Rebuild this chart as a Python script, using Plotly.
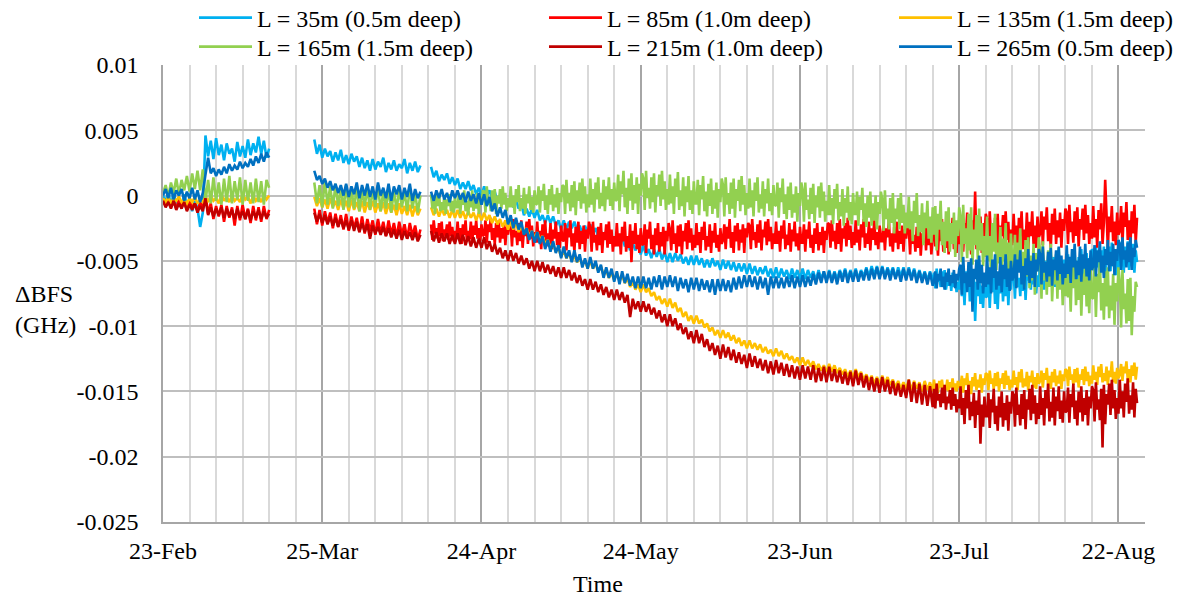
import pandas as pd
import plotly.graph_objects as go

# ---------------- data (values in MHz; plotted in GHz) ----------------
series_names = ["L = 35m (0.5m deep)", "L = 85m (1.0m deep)", "L = 135m (1.5m deep)",
                "L = 165m (1.5m deep)", "L = 215m (1.0m deep)", "L = 265m (0.5m deep)"]
series_colors = ["#00B0F0", "#FF0000", "#FFC000", "#92D050", "#C00000", "#0070C0"]

# measurement periods (start time of each block of samples)
SEG1_START = "2021-02-23 00:00"    # 12-hourly
SEG2_START = "2021-03-23 12:00"    # 12-hourly
SEG3_START = "2021-04-14 12:00"    # 12-hourly (6-hourly for 85m / 165m)
SEG3B_START = "2021-07-18 06:00"   # 6-hourly, continues SEG3 without a gap

# ---- L = 35m ----
lb_seg1 = [0.0, -0.5, 0.3, -0.8, 0.2, -0.6, -0.2, -1.0, 0.1, -0.7, -0.3, -1.2, -0.4, -1.0, -2.4, -1.3,
           4.6, 3.0, 4.2, 2.8, 4.4, 3.1, 3.9, 2.7, 4.0, 3.2, 3.6, 2.6, 4.1, 3.0, 3.8, 2.9, 4.3, 3.1, 4.0,
           3.3, 4.5, 3.2, 4.2, 2.9, 3.6]
lb_seg2 = [4.3, 3.2, 3.9, 2.9, 3.6, 3.0, 3.4, 2.6, 3.3, 2.7, 3.5, 2.5, 3.1, 2.4, 3.2, 2.6, 3.0, 2.2, 2.9, 2.1,
           2.7, 1.9, 2.8, 2.0, 2.6, 2.2, 2.9, 1.8, 2.5, 2.0, 2.7, 1.9, 2.4, 2.1, 2.8, 1.7, 2.5, 1.9, 2.6, 1.8, 2.3]
lb_seg3a = [2.2, 1.4, 1.9, 1.1, 1.6, 1.2, 1.7, 0.9, 1.4, 0.8,
            1.3, 0.5, 1.0, 0.5, 1.1, 0.4, 0.8, 0.1, 0.6, 0.0,
            0.7, -0.1, 0.4, -0.2, 0.3, -0.5, 0.0, -0.6, -0.1, -0.8,
            -0.2, -0.9, -0.3, -1.0, -0.6, -1.5, -1.0, -1.6, -1.0, -1.7,
            -1.1, -1.9, -1.5, -2.1, -1.5, -2.1, -1.6, -2.3, -1.9, -2.6,
            -1.9, -2.6, -2.0, -2.5, -2.0, -2.7, -2.3, -2.9, -2.3, -2.9,
            -2.2, -2.9, -2.5, -3.2, -2.7, -3.3, -2.7, -3.4, -3.0, -3.7,
            -3.0, -3.7, -3.1, -3.9, -3.5, -4.2, -3.6, -4.2, -3.7, -4.5,
            -3.8, -4.6, -4.1, -4.8, -4.1, -4.7, -4.1, -4.9, -4.3, -5.1,
            -4.4, -5.1, -4.4, -5.0, -4.5, -5.2, -4.7, -5.3, -4.6, -5.3,
            -4.6, -5.3, -4.8, -5.5, -4.9, -5.5, -4.8, -5.4, -5.0, -5.7,
            -4.9, -5.6, -5.0, -5.7, -5.1, -5.8, -5.2, -5.8, -5.2, -6.0,
            -5.2, -6.0, -5.4, -6.1, -5.5, -6.0, -5.4, -6.2, -5.6, -6.3,
            -5.5, -6.3, -5.6, -6.2, -5.7, -6.4, -5.6, -6.3, -5.7, -6.4,
            -5.6, -6.4, -5.7, -6.3, -5.8, -6.5, -5.7, -6.4, -5.8, -6.5,
            -5.7, -6.5, -5.8, -6.4, -5.7, -6.3, -5.6, -6.4, -5.7, -6.3,
            -5.6, -6.4, -5.7, -6.2, -5.5, -6.2, -5.4, -6.1, -5.4, -6.2,
            -5.4, -6.2, -5.5, -6.1, -5.5, -6.3, -5.5, -6.2, -5.5, -6.3,
            -5.5, -6.3, -5.6, -6.4, -5.7, -6.4, -5.8, -6.5, -5.8, -6.6]
lb_seg3b = [-5.9, -7.1, -5.6, -6.6, -6.2, -7.0, -5.8, -6.8, -5.7, -7.2, -6.5, -6.9, -6.1, -7.3, -5.9, -7.0, -6.3, -7.4, -6.6, -7.2,
            -5.5, -7.7, -6.4, -8.4, -5.8, -7.2, -5.4, -8.1, -6.7, -7.8, -6.0, -9.6, -6.6, -7.7, -5.8, -8.3, -6.9, -8.6, -6.3, -7.8,
            -7.7, -6.0, -8.6, -6.4, -7.4, -5.7, -8.3, -6.9, -8.7, -6.3, -7.5, -5.5, -8.1, -6.4, -7.7, -5.8, -8.4, -6.3, -7.2, -5.5,
            -5.8, -7.9, -5.2, -7.0, -6.3, -7.7, -5.6, -7.3, -5.3, -8.0, -5.8, -6.5, -5.1, -7.2, -4.8, -6.8, -5.5, -7.5, -6.1, -7.0,
            -4.7, -6.6, -5.5, -7.2, -5.0, -6.2, -4.6, -6.9, -5.8, -6.7, -4.7, -7.0, -5.2, -6.1, -4.5, -6.6, -5.4, -6.9, -4.9, -6.2,
            -5.9, -4.5, -6.7, -4.8, -5.6, -4.2, -6.4, -5.2, -6.8, -4.7, -5.8, -4.1, -6.3, -4.9, -6.0, -4.4, -6.6, -4.8, -5.6, -4.1,
            -4.3, -6.3, -3.8, -5.5, -4.8, -6.1, -4.2, -5.8, -3.9, -6.4, -4.5, -5.2, -3.9, -5.8, -3.6, -5.4, -4.2, -6.1, -4.8, -5.7,
            -3.6, -5.3, -4.3, -5.9, -3.9, -4.9, -3.5, -5.7, -4.6, -5.4, -3.7, -5.9, -4.2, -5.1]

# ---- L = 85m ----
rd_seg1 = [-0.3, -0.8, -0.2, -0.9, -0.4, -1.0, -0.3, -0.8, -0.5, -1.1, -0.4, -0.9, -0.6, -1.2, -0.5, -1.0,
           0.1, -1.4, -0.6, -1.8, -0.8, -1.6, -0.7, -2.0, -0.8, -1.7, -0.9, -2.3, -0.8, -1.9, -0.7, -1.8,
           -1.0, -2.1, -0.8, -1.9, -0.9, -2.0, -0.8, -1.8, -1.1]
rd_seg2 = [-1.0, -2.2, -1.1, -2.3, -1.2, -2.1, -1.3, -2.5, -1.4, -2.4, -1.5, -2.6, -1.4, -2.7, -1.6, -2.5,
           -1.7, -2.8, -1.6, -2.9, -1.8, -2.7, -1.9, -3.0, -1.8, -2.9, -2.0, -3.1, -1.9, -3.0, -2.1, -3.2,
           -2.0, -3.0, -2.2, -3.3, -2.1, -3.1, -2.3, -3.4, -2.6]
rd_seg3a = [-2.2, -3.4, -1.9, -2.9, -2.5, -3.3, -2.1, -3.1, -2.0, -3.5, -2.6, -3.0, -2.2, -3.4, -2.0, -3.1, -2.4, -3.5, -2.7, -3.3,
            -2.0, -3.3, -2.5, -3.7, -2.2, -3.0, -1.9, -3.5, -2.7, -3.3, -2.0, -3.6, -2.3, -3.0, -1.9, -3.3, -2.5, -3.5, -2.2, -3.1,
            -3.0, -1.9, -3.6, -2.2, -2.8, -1.7, -3.4, -2.5, -3.7, -2.1, -3.2, -1.9, -3.6, -2.5, -3.3, -2.1, -3.8, -2.4, -3.0, -1.9,
            -2.2, -3.9, -1.8, -3.2, -2.7, -3.8, -2.1, -3.5, -1.9, -4.0, -2.6, -3.1, -2.0, -3.7, -1.8, -3.3, -2.3, -3.9, -2.8, -3.6,
            -2.0, -3.6, -2.7, -4.1, -2.2, -3.2, -1.9, -3.9, -2.9, -3.7, -2.1, -4.1, -2.6, -3.3, -2.0, -3.8, -2.8, -4.0, -2.3, -3.4,
            -3.5, -2.1, -4.2, -2.5, -3.2, -1.9, -3.9, -2.9, -4.3, -2.4, -3.6, -2.0, -4.1, -2.7, -3.7, -2.3, -4.3, -2.6, -3.3, -2.0,
            -2.5, -4.3, -2.0, -3.6, -3.0, -4.2, -2.4, -3.8, -2.1, -4.4, -2.8, -3.4, -2.2, -4.0, -2.0, -3.7, -2.6, -4.3, -3.1, -3.9,
            -2.1, -3.9, -2.9, -4.5, -2.4, -3.5, -2.0, -4.3, -3.1, -4.0, -2.2, -5.1, -2.7, -3.7, -2.1, -4.1, -3.0, -4.4, -2.5, -3.8,
            -3.7, -2.2, -4.4, -2.6, -3.3, -2.0, -4.1, -3.0, -4.5, -2.5, -3.8, -2.1, -4.3, -2.8, -3.9, -2.4, -4.5, -2.7, -3.5, -2.1,
            -2.6, -4.2, -1.9, -3.7, -2.9, -4.4, -2.3, -3.9, -2.2, -4.5, -2.7, -3.5, -2.1, -4.1, -1.9, -3.6, -2.5, -4.2, -3.0, -4.0,
            -2.1, -3.8, -2.8, -4.4, -2.4, -3.4, -2.0, -4.2, -3.1, -3.9, -2.2, -4.4, -2.7, -3.6, -2.1, -4.0, -3.0, -4.3, -2.5, -3.7,
            -3.4, -2.2, -4.1, -2.4, -3.3, -1.8, -4.0, -2.8, -4.4, -2.3, -3.5, -2.1, -4.2, -2.6, -3.6, -2.2, -4.4, -2.5, -3.2, -2.1,
            -2.3, -4.1, -1.8, -3.4, -2.8, -4.0, -2.2, -3.6, -1.9, -4.2, -2.6, -3.2, -2.0, -3.8, -1.8, -3.5, -2.4, -4.1, -2.9, -3.7,
            -2.0, -3.7, -2.7, -4.3, -2.3, -3.3, -1.9, -4.1, -3.0, -3.8, -2.1, -4.3, -2.6, -3.5, -2.0, -3.9, -2.9, -4.2, -2.4, -3.6,
            -3.6, -2.2, -4.3, -2.6, -3.3, -2.0, -4.0, -3.0, -4.4, -2.5, -3.7, -2.1, -4.2, -2.8, -3.8, -2.4, -4.4, -2.7, -3.4, -2.1,
            -2.2, -4.0, -1.9, -3.5, -2.7, -4.1, -2.1, -3.7, -1.8, -4.3, -2.5, -3.3, -2.1, -3.9, -1.7, -3.4, -2.3, -4.0, -2.8, -3.8,
            -1.9, -3.6, -2.6, -4.2, -2.2, -3.2, -1.8, -4.0, -2.9, -3.7, -2.0, -4.2, -2.5, -3.4, -1.9, -3.8, -2.8, -4.1, -2.3, -3.5,
            -3.5, -2.1, -4.2, -2.5, -3.2, -1.9, -3.9, -2.9, -4.3, -2.4, -3.6, -2.0, -4.1, -2.7, -3.7, -2.3, -4.3, -2.6, -3.3, -2.0,
            -2.5, -4.5, -2.0, -3.7, -3.0, -4.3, -2.4, -4.0, -2.1, -4.6, -2.9, -3.6, -2.3, -4.2, -2.0, -3.8, -2.6, -4.5, -3.2]
rd_seg3b = [-1.9, -3.9, -2.8, -4.6, -2.2, -3.5, -1.8, -4.3, -3.1, -4.0, -1.9, -4.5, -2.4, -3.5, -1.7, -4.1, -2.7, -4.4, -2.2, -3.7,
            -3.4, -1.6, -4.3, -2.1, -3.1, -1.3, -4.0, -2.6, -4.5, -1.9, -3.4, 0.3, -4.1, -2.2, -3.6, -1.6, -4.4, -2.1, -3.1, -1.4,
            -1.8, -4.2, -1.2, -3.3, -2.5, -4.1, -1.7, -3.6, -1.4, -4.4, -2.3, -3.1, -1.5, -3.9, -1.2, -3.4, -2.0, -4.2, -2.6, -3.8,
            -1.4, -3.6, -2.3, -4.4, -1.7, -3.1, -1.2, -4.1, -2.6, -3.8, -1.3, -4.2, -2.0, -3.1, -1.2, -3.7, -2.3, -4.0, -1.6, -3.2,
            -2.9, -1.2, -3.8, -1.6, -2.6, -0.9, -3.5, -2.1, -4.0, -1.4, -3.0, -1.0, -3.7, -1.9, -3.2, -1.3, -4.0, -1.8, -2.7, -1.0,
            -1.3, -3.7, -0.7, -2.8, -2.0, -3.6, -1.2, -3.1, -0.9, -3.9, -1.8, -2.6, -1.0, -3.4, -0.7, -2.9, -1.5, -3.7, -2.1, -3.3,
            -0.8, -3.2, -1.8, -4.0, -1.1, -2.6, -0.6, -3.7, -2.1, 1.2, -0.9, -4.0, -1.6, -2.8, -0.8, -3.5, -2.0, -3.8, -1.3, -3.0,
            -2.7, -0.8, -3.7, -1.3, -2.4, -0.5, -3.4, -1.9, -3.9, -1.2, -2.9, -0.7, -3.6, -1.7]

# ---- L = 135m ----
ye_seg1 = [-0.2, -0.5, -0.1, -0.6, -0.2, -0.4, -0.1, -0.5, -0.3, -0.6, -0.2, -0.5, -0.1, -0.6, -0.3, -0.5,
           -0.1, -0.5, 0.0, -0.4, -0.2, -0.6, 0.1, -0.4, -0.1, -0.5, 0.0, -0.4, -0.2, -0.5, 0.1, -0.3,
           -0.1, -0.6, 0.0, -0.4, -0.1, -0.5, 0.0, -0.3, 0.0]
ye_seg2 = [-0.1, -0.8, -0.2, -0.9, -0.3, -1.0, -0.2, -0.9, -0.4, -1.1, -0.3, -1.0, -0.4, -1.2, -0.3, -1.1,
           -0.5, -1.2, -0.4, -1.3, -0.5, -1.1, -0.4, -1.3, -0.6, -1.2, -0.5, -1.4, -0.6, -1.3, -0.7, -1.5,
           -0.6, -1.4, -0.8, -1.5, -0.7, -1.6, -0.8, -1.5, -1.0]
ye_seg3a = [-0.9, -1.5, -1.0, -1.6, -1.0, -1.5, -1.1, -1.7, -1.1, -1.7,
            -1.1, -1.7, -1.2, -1.8, -1.2, -1.7, -1.3, -1.9, -1.3, -1.9,
            -1.3, -1.9, -1.5, -2.1, -1.6, -2.2, -1.8, -2.4, -1.9, -2.6,
            -2.0, -2.6, -2.1, -2.8, -2.3, -2.9, -2.5, -3.1, -2.7, -3.3,
            -2.8, -3.4, -3.1, -3.7, -3.4, -4.0, -3.7, -4.3, -4.0, -4.7,
            -4.2, -4.8, -4.4, -5.0, -4.6, -5.1, -4.8, -5.3, -5.0, -5.6,
            -5.0, -5.6, -5.2, -5.8, -5.4, -6.1, -5.7, -6.3, -5.9, -6.5,
            -5.9, -6.5, -6.1, -6.7, -6.3, -7.0, -6.6, -7.2, -6.8, -7.4,
            -6.8, -7.4, -7.1, -7.7, -7.4, -8.0, -7.7, -8.3, -7.9, -8.5,
            -7.9, -8.6, -8.2, -8.9, -8.6, -9.3, -8.9, -9.6, -9.2, -9.8,
            -9.2, -9.8, -9.5, -10.1, -9.8, -10.4, -10.1, -10.7, -10.3, -10.9,
            -10.3, -10.9, -10.5, -11.1, -10.7, -11.3, -10.9, -11.5, -11.1, -11.7,
            -11.1, -11.7, -11.3, -11.8, -11.4, -12.0, -11.6, -12.1, -11.8, -12.3,
            -11.7, -12.3, -11.9, -12.5, -12.1, -12.6, -12.3, -12.8, -12.4, -13.0,
            -12.4, -13.0, -12.6, -13.1, -12.7, -13.3, -12.9, -13.4, -13.0, -13.5,
            -12.9, -13.5, -13.0, -13.6, -13.2, -13.7, -13.3, -13.9, -13.4, -13.9,
            -13.3, -13.9, -13.5, -14.1, -13.7, -14.2, -13.8, -14.4, -13.9, -14.4,
            -13.8, -14.4, -13.9, -14.5, -14.1, -14.7, -14.2, -14.8, -14.3, -14.8,
            -14.1, -14.9, -14.2, -14.8, -14.3, -15.0, -14.2, -14.9, -14.3, -15.0]
ye_seg3b = [-14.1, -14.9, -14.4, -15.1, -14.2, -14.7, -14.1, -15.0, -14.5, -14.9, -14.1, -15.0, -14.3, -14.7, -14.0, -14.9, -14.4, -15.0, -14.2, -14.7,
            -14.6, -13.8, -15.1, -14.0, -14.5, -13.6, -15.0, -14.2, -15.2, -13.9, -14.6, -13.6, -14.9, -14.1, -14.7, -13.7, -15.1, -14.0, -14.5, -13.6,
            -13.7, -14.9, -13.4, -14.4, -14.0, -14.8, -13.6, -14.6, -13.5, -15.0, -14.0, -14.4, -13.6, -14.8, -13.4, -14.5, -13.8, -14.9, -14.1, -14.7,
            -13.4, -14.5, -13.9, -14.9, -13.5, -14.3, -13.3, -14.7, -14.0, -14.6, -13.5, -14.9, -13.8, -14.3, -13.4, -14.7, -13.9, -14.8, -13.6, -14.4,
            -14.2, -13.4, -14.7, -13.6, -14.1, -13.2, -14.6, -13.8, -14.8, -13.5, -14.3, -13.3, -14.6, -13.8, -14.4, -13.4, -14.8, -13.7, -14.2, -13.3,
            -13.4, -14.6, -13.1, -14.1, -13.7, -14.5, -13.3, -14.3, -13.2, -14.7, -13.7, -14.1, -13.3, -14.5, -13.1, -14.2, -13.5, -14.6, -13.8, -14.4,
            -13.0, -14.1, -13.5, -14.5, -13.1, -13.9, -12.9, -14.3, -13.6, -14.2, -13.1, -14.5, -13.4, -13.9, -12.7, -14.3, -13.5, -14.4, -13.2, -14.0,
            -13.7, -12.9, -14.2, -13.1, -13.6, -12.7, -14.1, -13.3, -14.3, -13.0, -13.8, -12.8, -14.1, -13.1]

# ---- L = 165m ----
gr_seg1 = [0.2, 0.8, -0.1, 1.0, 0.2, 1.3, 0.1, 1.2, 0.4, 1.5, 0.3, 1.7, 0.5, 1.9, 0.4, 2.0,
           -0.5, 1.2, -0.6, 1.4, -0.4, 1.0, -0.7, 1.3, -0.5, 1.5, -0.6, 1.1, -0.3, 1.4, -0.7, 1.2,
           -0.4, 1.0, -0.6, 1.3, -0.5, 1.1, -0.7, 1.2, 0.6]
gr_seg2 = [1.0, -0.6, 0.8, -0.9, 1.2, -0.7, 0.7, -1.0, 0.9, -0.8, 0.6, -1.1, 0.8, -0.9, 0.5, -1.0,
           0.7, -1.2, 0.4, -0.8, 0.6, -1.1, 0.5, -0.9, 0.8, -1.2, 0.3, -1.0, 0.6, -1.3, 0.4, -1.1,
           0.5, -0.9, 0.3, -1.2, 0.6, -1.0, 0.2, -1.3, 0.0]
gr_seg3a = [0.1, -1.0, -0.4, -1.4, 0.0, -0.8, 0.2, -1.2, -0.5, -1.1, 0.0, -1.4, -0.3, -0.8, 0.1, -1.2, -0.4, -1.3, -0.1, -0.9,
            -0.9, 0.2, -1.4, -0.1, -0.7, 0.4, -1.2, -0.4, -1.5, -0.1, -0.9, 0.4, -1.2, -0.2, -1.0, 0.2, -1.4, 0.0, -0.7, 0.4,
            0.3, -1.3, 0.7, -0.7, -0.2, -1.2, 0.4, -0.9, 0.5, -1.4, 0.0, -0.6, 0.5, -1.0, 0.7, -0.7, 0.2, -1.2, -0.2, -0.9,
            0.7, -0.9, 0.0, -1.4, 0.5, -0.5, 0.8, -1.2, -0.2, -1.0, 0.6, -1.4, 0.1, -0.6, 0.7, -1.1, -0.1, -1.3, 0.4, -0.7,
            -0.6, 0.7, -1.3, 0.4, -0.4, 0.9, -1.1, 0.0, -1.4, 0.5, -0.7, 0.8, -1.2, 0.1, -0.9, 0.6, -1.4, 0.2, -0.5, 0.8,
            0.7, -1.4, 1.2, -0.6, 0.2, -1.2, 0.8, -0.9, 1.1, -1.5, 0.4, -0.4, 1.0, -1.0, 1.3, -0.6, 0.7, -1.3, 0.1, -0.9,
            1.3, -0.7, 0.5, -1.3, 1.0, -0.3, 1.4, -1.0, 0.2, -0.8, 1.2, -1.2, 0.7, -0.3, 1.4, -0.8, 0.5, -1.1, 1.0, -0.4,
            -0.3, 1.6, -1.2, 1.1, 0.1, 1.9, -0.9, 0.6, -1.4, 1.3, -0.4, 1.7, -1.1, 0.8, -0.6, 1.4, -1.4, 0.9, 0.0, 1.7,
            1.3, -1.1, 1.9, -0.2, 0.6, -1.0, 1.4, -0.5, 1.7, -1.3, 0.8, 0.0, 1.6, -0.8, 1.9, -0.3, 1.1, -1.1, 0.5, -0.7,
            1.6, -0.6, 0.7, -1.4, 1.3, -0.1, 1.8, -1.1, 0.4, -0.8, 1.4, -1.6, 0.7, -0.5, 1.5, -1.1, 0.4, -1.4, 1.1, -0.6,
            -0.6, 1.2, -1.5, 0.8, -0.3, 1.5, -1.2, 0.3, -1.6, 0.9, -0.8, 1.3, -1.4, 0.4, -1.0, 1.0, -1.7, 0.5, -0.5, 1.3,
            0.8, -1.6, 1.4, -0.7, 0.2, -1.4, 1.0, -1.0, 1.3, -1.7, 0.5, -0.4, 1.2, -1.2, 1.5, -0.7, 0.8, -1.5, 0.2, -1.0,
            1.3, -0.9, 0.4, -1.6, 1.0, -0.4, 1.4, -1.3, 0.1, -1.0, 1.1, -1.6, 0.5, -0.6, 1.3, -1.2, 0.2, -1.5, 0.8, -0.7,
            -0.8, 1.0, -1.7, 0.6, -0.5, 1.3, -1.4, 0.1, -1.8, 0.7, -1.1, 1.0, -1.7, 0.1, -1.3, 0.7, -2.0, 0.2, -0.8, 1.0,
            0.4, -2.0, 1.0, -1.1, -0.3, -1.8, 0.6, -1.4, 0.9, -2.1, 0.0, -0.9, 0.7, -1.7, 1.0, -1.2, 0.3, -2.0, -0.4, -1.5,
            0.8, -1.5, -0.2, -2.2, 0.5, -1.0, 0.9, -1.9, -0.5, -1.6, 0.5, -2.3, -0.2, -1.3, 0.7, -1.9, -0.5, -2.2, 0.2, -1.4,
            -1.4, 0.3, -2.3, -0.1, -1.1, 0.6, -2.0, -0.6, -2.4, 0.0, -1.7, 0.3, -2.3, -0.6, -1.9, 0.0, -2.6, -0.5, -1.4, 0.3,
            -0.3, -2.7, 0.4, -1.8, -1.0, -2.6, -0.2, -2.1, 0.2, -2.9, -1.0, -1.8, -0.2, -2.6, 0.2, -2.1, -0.7, -2.9, -1.3, -2.5,
            -0.1, -2.6, -1.2, -3.5, -0.4, -2.1, 0.2, -3.1, -1.5, -2.8, -0.6, -3.8, -1.3, -2.5, -0.4, -3.3, -1.6, -3.6, -0.9]
gr_seg3b = [-3.0, -0.8, -4.2, -1.4, -2.6, -0.4, -3.8, -2.0, -4.4, -1.2, -3.5, -0.9, -4.3, -2.1, -3.7, -1.3, -4.7, -1.9, -3.1, -0.9,
            -1.6, -5.1, -0.7, -3.7, -2.5, -4.8, -1.4, -4.2, -0.9, -5.3, -2.6, -3.8, -1.5, -4.9, -1.0, -4.2, -2.1, -5.4, -3.1, -4.7,
            -1.6, -5.0, -3.1, -6.2, -2.1, -4.3, -1.4, -5.7, -3.6, -5.2, -2.4, -6.7, -3.3, -5.0, -2.1, -6.0, -3.6, -6.5, -2.9, -5.3,
            -5.5, -3.0, -6.9, -3.6, -5.0, -2.5, -6.4, -4.3, -7.1, -3.4, -6.2, -3.2, -7.1, -4.6, -6.5, -3.7, -7.6, -4.4, -5.8, -3.2,
            -4.4, -7.9, -3.5, -6.5, -5.3, -7.6, -4.2, -7.0, -3.7, -8.1, -5.6, -6.8, -4.5, -7.9, -4.0, -7.2, -5.1, -8.4, -6.1, -7.7,
            -4.5, -7.8, -5.9, -8.9, -5.0, -7.1, -4.3, -8.4, -6.4, -8.0, -5.1, -9.2, -6.0, -7.6, -4.8, -8.5, -6.2, -9.0, -5.5, -7.8,
            -7.9, -5.4, -9.3, -6.0, -7.4, -4.9, -8.8, -6.7, -9.5, -5.8, -8.5, -5.5, -9.4, -6.9, -8.8, -6.0, -9.9, -6.7, -8.1, -5.5,
            -6.6, -10.1, -5.7, -8.7, -7.5, -9.8, -6.4, -9.6, -6.3, -10.7, -7.7, -8.9, -6.6, -7.0]

# ---- L = 215m ----
dr_seg1 = [-0.4, -0.9, -0.5, -1.0, -0.4, -1.1, -0.6, -1.0, -0.5, -1.2, -0.7, -1.1, -0.6, -1.3, -0.8, -1.2,
           -0.2, -1.5, -0.9, -1.6, -1.0, -1.5, -0.9, -1.7, -1.0, -1.6, -1.1, -1.8, -1.0, -1.7, -1.2, -1.8,
           -1.1, -1.9, -1.2, -1.7, -1.1, -1.8, -1.2, -1.7, -1.4]
dr_seg2 = [-1.3, -2.0, -1.4, -2.1, -1.5, -2.2, -1.6, -2.3, -1.7, -2.4, -1.8, -2.5, -1.9, -2.6, -1.9, -2.7,
           -2.0, -2.8, -2.1, -2.8, -2.2, -3.3, -2.3, -2.9, -2.4, -3.0, -2.4, -3.1, -2.5, -3.2, -2.6, -3.3,
           -2.6, -3.4, -2.7, -3.3, -2.8, -3.4, -2.8, -3.5, -3.0]
dr_seg3a = [-2.7, -3.5, -2.8, -3.6, -2.9, -3.5, -2.9, -3.7, -3.0, -3.7,
            -2.9, -3.7, -3.0, -3.8, -3.1, -3.9, -3.2, -4.0, -3.3, -4.0,
            -3.2, -4.1, -3.5, -4.3, -3.7, -4.5, -4.0, -4.8, -4.2, -5.0,
            -4.2, -5.0, -4.4, -5.2, -4.6, -5.3, -4.8, -5.6, -5.0, -5.8,
            -5.0, -5.8, -5.1, -5.9, -5.3, -6.0, -5.4, -6.2, -5.5, -6.3,
            -5.5, -6.3, -5.7, -6.5, -5.9, -6.7, -6.1, -6.9, -6.4, -7.2,
            -6.4, -7.2, -6.6, -7.4, -6.8, -7.6, -7.0, -7.8, -7.2, -8.0,
            -7.2, -8.0, -7.4, -8.2, -7.6, -9.3, -7.9, -8.7, -8.1, -8.9,
            -8.1, -8.9, -8.3, -9.1, -8.6, -9.4, -8.8, -9.7, -9.1, -10.0,
            -9.1, -10.0, -9.4, -10.3, -9.8, -10.6, -10.1, -11.0, -10.4, -11.3,
            -10.3, -11.3, -10.6, -11.6, -11.0, -11.9, -11.3, -12.2, -11.5, -12.5,
            -11.4, -12.4, -11.6, -12.6, -11.8, -12.8, -12.0, -12.9, -12.2, -13.2,
            -12.1, -13.1, -12.3, -13.2, -12.5, -13.4, -12.6, -13.6, -12.7, -13.7,
            -12.6, -13.6, -12.8, -13.8, -12.9, -13.9, -13.0, -14.0, -13.1, -14.1,
            -13.0, -14.0, -13.1, -14.1, -13.0, -14.3, -13.2, -14.2, -13.1, -14.3,
            -13.1, -14.2, -13.3, -14.3, -13.4, -14.4, -13.5, -14.5, -13.5, -14.6,
            -13.4, -14.5, -13.6, -14.7, -13.8, -14.9, -13.9, -15.0, -14.0, -15.1,
            -13.9, -15.0, -14.1, -15.2, -14.2, -15.3, -14.4, -15.4, -14.5, -15.5,
            -14.1, -15.8, -14.3, -15.9, -14.4, -16.0, -14.5, -16.1, -14.6, -16.2]
dr_seg3b = [-14.8, -16.3, -14.4, -15.7, -15.2, -16.2, -14.7, -15.9, -14.5, -16.4, -15.4, -15.9, -14.9, -16.4, -14.7, -16.1, -15.2, -16.6, -15.6, -16.3,
            -14.6, -16.8, -15.5, -17.5, -14.9, -16.3, -14.5, -17.2, -15.8, -16.9, -15.1, -17.8, -15.7, -16.8, -14.9, -19.0, -16.0, -17.7, -15.4, -16.9,
            -16.9, -15.1, -17.8, -15.6, -16.6, -14.8, -17.5, -16.1, -18.0, -15.4, -17.0, -15.0, -17.7, -15.9, -17.2, -15.3, -18.0, -15.8, -16.7, -15.0,
            -15.3, -17.7, -14.7, -16.8, -16.0, -17.6, -15.2, -17.1, -14.9, -17.9, -15.6, -16.4, -14.8, -17.2, -14.5, -16.7, -15.3, -17.5, -15.9, -17.1,
            -14.6, -16.8, -15.5, -17.6, -14.9, -16.3, -14.4, -17.3, -15.8, -17.0, -14.7, -17.6, -15.4, -16.5, -14.6, -17.1, -15.7, -17.4, -15.0, -16.6,
            -16.5, -14.7, -17.4, -15.2, -16.2, -14.4, -17.1, -15.7, -17.6, -15.0, -16.6, -14.6, -17.3, -15.5, -16.8, -14.9, -17.6, -15.4, -16.3, -14.6,
            -14.9, -17.3, -14.3, -16.4, -15.6, -17.2, -14.8, -19.3, -14.5, -17.5, -15.2, -16.0, -14.4, -16.8, -14.1, -16.3, -14.9, -17.1, -15.5, -16.7,
            -14.1, -16.3, -15.0, -17.0, -14.4, -15.8, -14.0, -16.7, -15.3, -16.4, -14.3, -17.0, -14.8, -15.9]

# ---- L = 265m ----
db_seg1 = [0.0, 0.5, -0.2, 0.6, -0.3, 0.4, 0.0, 0.5, -0.4, 0.3, -0.2, 0.6, -0.3, 0.4, -0.5, 0.2,
           1.6, 2.9, 1.7, 2.1, 1.5, 2.0, 1.6, 2.2, 1.7, 2.4, 1.9, 2.3, 2.0, 2.6, 2.1, 2.5, 2.2, 2.8,
           2.3, 3.0, 2.5, 3.2, 2.6, 3.3, 2.9]
db_seg2 = [1.9, 1.2, 1.5, 0.9, 1.3, 0.6, 1.1, 0.4, 0.9, 0.2, 0.8, 0.0, 0.9, -0.1, 0.7, 0.1, 1.0, -0.2,
           0.8, 0.0, 0.9, -0.1, 0.7, -0.3, 1.0, 0.0, 0.6, -0.2, 0.9, -0.4, 0.7, 0.1, 0.8, -0.3, 0.6,
           -0.1, 0.9, -0.4, 0.5, -0.2, 0.3]
db_seg3a = [0.3, -0.4, 0.4, -0.2, 0.5, -0.3, 0.2, -0.5, 0.4, -0.2,
            0.4, -0.3, 0.2, -0.5, 0.3, -0.4, 0.1, -0.6, 0.2, -0.7,
            0.1, -0.8, -0.1, -1.2, -0.6, -1.6, -0.9, -1.7, -1.1, -2.2,
            -1.5, -2.5, -1.7, -2.6, -2.0, -3.0, -2.5, -3.4, -2.7, -3.6,
            -2.8, -3.7, -3.1, -4.1, -3.4, -4.3, -3.5, -4.4, -3.8, -4.8,
            -3.9, -4.8, -4.2, -5.1, -4.2, -5.1, -4.5, -5.5, -4.8, -5.6,
            -4.7, -5.6, -5.0, -5.9, -5.3, -6.3, -5.5, -6.3, -5.6, -6.6,
            -5.8, -6.8, -5.8, -6.7, -6.0, -6.9, -6.2, -7.1, -6.2, -7.1,
            -6.2, -7.1, -6.3, -7.2, -6.2, -7.0, -6.1, -7.2, -6.2, -7.0,
            -6.1, -7.0, -6.2, -7.3, -6.3, -7.1, -6.4, -7.4, -6.3, -7.2,
            -6.3, -7.3, -6.4, -7.2, -6.5, -7.4, -6.4, -7.6, -6.4, -7.3,
            -6.4, -7.3, -6.5, -7.4, -6.3, -7.2, -6.2, -7.1, -6.1, -7.0,
            -6.1, -7.0, -6.2, -7.2, -6.2, -7.1, -6.3, -7.6, -6.2, -7.1,
            -6.2, -7.1, -6.3, -7.1, -6.2, -7.0, -6.1, -7.1, -6.2, -7.0,
            -6.1, -7.0, -6.2, -6.9, -6.0, -6.8, -5.9, -6.7, -5.8, -6.7,
            -5.8, -6.7, -5.9, -6.8, -5.8, -6.6, -5.7, -6.7, -5.8, -6.6,
            -5.7, -6.6, -5.8, -6.5, -5.6, -6.5, -5.6, -6.4, -5.5, -6.4,
            -5.5, -6.4, -5.6, -6.5, -5.6, -6.4, -5.7, -6.6, -5.6, -6.5,
            -5.6, -6.5, -5.7, -6.7, -5.8, -6.7, -5.9, -6.8, -5.9, -6.9]
db_seg3b = [-6.6, -5.8, -7.1, -6.0, -6.5, -5.6, -7.0, -6.2, -7.2, -5.9, -6.6, -5.6, -6.9, -6.1, -6.7, -5.7, -7.1, -6.0, -6.5, -5.6,
            -5.3, -7.6, -4.7, -6.7, -5.9, -7.4, -5.1, -7.0, -4.8, -8.9, -5.6, -6.4, -4.9, -7.2, -4.6, -6.7, -5.3, -7.5, -5.9, -7.0,
            -4.6, -6.8, -5.5, -7.5, -4.9, -6.3, -4.5, -7.2, -5.8, -6.9, -4.7, -7.4, -5.3, -6.4, -4.5, -7.0, -5.6, -7.3, -5.0, -6.5,
            -6.2, -4.5, -7.1, -4.9, -5.9, -4.2, -6.8, -5.4, -7.2, -4.8, -6.1, -4.1, -6.7, -5.0, -6.3, -4.4, -7.0, -4.9, -5.8, -4.1,
            -4.5, -6.8, -3.9, -5.9, -5.1, -6.6, -4.3, -6.2, -4.0, -6.9, -4.9, -5.7, -4.2, -6.5, -3.9, -6.0, -4.6, -6.8, -5.2, -6.3,
            -3.8, -6.0, -4.7, -6.7, -4.1, -5.5, -3.7, -6.4, -5.0, -6.1, -3.9, -6.6, -4.5, -5.6, -3.7, -6.2, -4.8, -6.5, -4.2, -5.7,
            -5.4, -3.8, -6.2, -4.2, -5.1, -3.5, -5.9, -4.6, -6.3, -4.1, -5.3, -3.4, -5.8, -4.3, -5.4, -3.7, -6.1, -4.1, -5.0, -3.4,
            -3.7, -5.7, -3.2, -4.9, -4.2, -5.5, -3.6, -5.1, -3.2, -5.7, -4.0, -4.7, -3.4, -4.0]

series_segments = [
    (lb_seg1, lb_seg2, lb_seg3a, lb_seg3b),
    (rd_seg1, rd_seg2, rd_seg3a, rd_seg3b),
    (ye_seg1, ye_seg2, ye_seg3a, ye_seg3b),
    (gr_seg1, gr_seg2, gr_seg3a, gr_seg3b),
    (dr_seg1, dr_seg2, dr_seg3a, dr_seg3b),
    (db_seg1, db_seg2, db_seg3a, db_seg3b),
]
seg3a_step = ["12h", "6h", "12h", "6h", "12h", "12h"]

# axis ticks
x_tick_vals = ["2021-02-23", "2021-03-25", "2021-04-24", "2021-05-24", "2021-06-23", "2021-07-23", "2021-08-22"]
x_tick_text = ["23-Feb", "25-Mar", "24-Apr", "24-May", "23-Jun", "23-Jul", "22-Aug"]
y_tick_vals = [0.01, 0.005, 0, -0.005, -0.01, -0.015, -0.02, -0.025]
y_tick_text = ["0.01", "0.005", "0", "-0.005", "-0.01", "-0.015", "-0.02", "-0.025"]

# ---------------- figure ----------------
FONT = "Liberation Serif"
W, H = 1184, 600
ml, mr, mt, mb = 163, 39.4, 65.3, 77.5
pw = W - ml - mr
ph = H - mt - mb

# legend slots: 3 columns x 2 rows (pixel positions of the legend boxes)
legend_ids = ["legend", "legend2", "legend3", "legend4", "legend5", "legend6"]
legend_left_px = [194, 544, 894, 194, 544, 894]
legend_mid_px = [18, 18, 18, 47, 47, 47]

fig = go.Figure()
for name, color, segs, step3a, lid in zip(series_names, series_colors, series_segments,
                                          seg3a_step, legend_ids):
    s1, s2, s3a, s3b = segs
    parts = [(SEG1_START, "12h", s1, True), (SEG2_START, "12h", s2, True),
             (SEG3_START, step3a, s3a, False), (SEG3B_START, "6h", s3b, False)]
    xs, ys = [], []
    for start, freq, vals, gap_after in parts:
        t = pd.date_range(start, periods=len(vals), freq=freq)
        xs += list(t)
        ys += [v / 1000.0 for v in vals]   # MHz -> GHz
        if gap_after:
            xs.append(None)
            ys.append(None)
    fig.add_trace(go.Scatter(x=xs, y=ys, mode="lines", name=name, legend=lid,
                             line=dict(color=color, width=2.6), connectgaps=False))

legend_layouts = {}
for lid, lx, ly in zip(legend_ids, legend_left_px, legend_mid_px):
    legend_layouts[lid] = dict(
        orientation="v", xref="container", yref="container",
        x=lx / W, xanchor="left", y=1 - ly / H, yanchor="middle",
        itemwidth=53,
        font=dict(family=FONT, size=24, color="black"),
        bgcolor="rgba(0,0,0,0)", borderwidth=0)

fig.update_layout(
    width=W, height=H,
    margin=dict(l=ml, r=mr, t=mt, b=mb, pad=0, autoexpand=False),
    paper_bgcolor="white", plot_bgcolor="white",
    font=dict(family=FONT, size=24, color="black"),
    showlegend=True,
    **legend_layouts,
    xaxis=dict(
        type="date", range=["2021-02-23", "2021-08-27"],
        tickmode="array", tickvals=x_tick_vals, ticktext=x_tick_text,
        ticks="", ticklabelstandoff=6,
        showgrid=True, gridcolor="#a6a6a6", gridwidth=1.5,
        minor=dict(dtick=5 * 86400000, tick0="2021-02-23", showgrid=True,
                   gridcolor="#d9d9d9", gridwidth=1.5, ticks=""),
        showline=True, linecolor="#a6a6a6", linewidth=1.5,
        zeroline=False, tickfont=dict(family=FONT, size=24, color="black"),
    ),
    yaxis=dict(
        range=[-0.025, 0.01], tickmode="array", tickvals=y_tick_vals, ticktext=y_tick_text,
        ticks="", ticklabelstandoff=18,
        showgrid=True, gridcolor="#bfbfbf", gridwidth=1.5,
        showline=True, linecolor="#a6a6a6", linewidth=1.5,
        zeroline=False, tickfont=dict(family=FONT, size=24, color="black"),
    ),
    annotations=[
        dict(text="ΔBFS<br>(GHz)", xref="paper", yref="paper",
             x=(13 - ml) / pw, y=(H - mb - 310) / ph, xanchor="left", yanchor="middle",
             showarrow=False, align="left", font=dict(family=FONT, size=24, color="black")),
        dict(text="Time", xref="paper", yref="paper",
             x=(598 - ml) / pw, y=(H - mb - 585) / ph, xanchor="center", yanchor="middle",
             showarrow=False, font=dict(family=FONT, size=24, color="black")),
    ],
)

fig.write_html("out.html")
